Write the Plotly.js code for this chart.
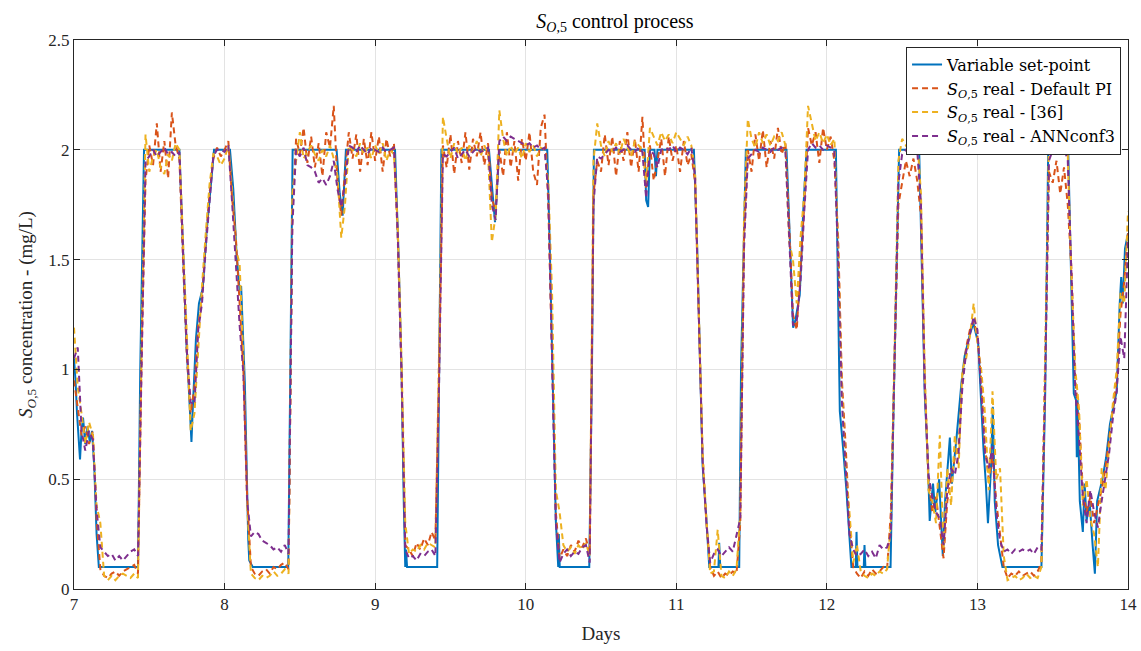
<!DOCTYPE html>
<html>
<head>
<meta charset="utf-8">
<script src="https://cdn.plot.ly/plotly-3.0.1.min.js"></script>
<style>html,body{margin:0;padding:0;background:#fff;}#chart{width:1141px;height:651px;}</style>
</head>
<body>
<div id="chart"></div>
<script>
// Variable set-point (breakpoints, days / mg/L)
const setpointDays = [7.000,7.010,7.020,7.030,7.040,7.050,7.060,7.075,7.090,7.105,7.120,7.135,7.150,7.165,
7.425,7.440,7.465,7.700,7.726,7.748,7.760,7.780,7.790,7.810,7.830,7.855,7.880,7.914,7.930,
8.036,8.058,8.080,8.100,8.110,8.135,8.157,8.164,8.187,8.423,8.452,8.744,8.765,8.784,8.806,
9.132,9.154,9.176,9.190,9.200,9.205,9.212,9.412,9.424,9.440,9.756,9.796,9.824,
10.143,10.160,10.183,10.200,10.216,10.220,10.226,10.422,10.440,10.453,10.790,10.800,10.813,10.825,10.855,10.865,10.875,
11.117,11.139,11.157,11.175,11.197,11.219,11.280,11.285,11.292,11.418,11.430,11.462,11.732,11.754,11.776,11.790,11.820,11.843,11.865,
12.060,12.075,12.086,12.108,12.130,12.163,12.192,12.197,12.203,12.245,12.250,12.256,12.423,12.440,12.480,12.613,12.629,12.650,12.672,12.683,
12.705,12.720,12.746,12.758,12.770,12.785,12.805,12.817,12.830,12.860,12.894,12.915,12.950,12.973,13.005,13.027,13.040,13.056,13.070,13.090,13.102,13.115,13.137,13.166,
13.425,13.450,13.470,13.603,13.625,13.640,13.655,13.660,13.665,13.680,13.700,13.712,13.725,13.745,13.765,13.780,13.795,13.830,13.855,13.880,13.900,13.925,13.945,13.955,13.965,13.980,14.000];
const setpointValues = [1.05,0.95,0.80,0.70,0.59,0.72,0.78,0.66,0.74,0.67,0.72,0.55,0.25,0.10,
0.10,1.00,2.00,2.00,1.50,1.10,0.95,0.67,0.84,1.14,1.30,1.37,1.62,1.87,2.00,
2.00,1.82,1.52,1.36,1.38,0.93,0.23,0.13,0.10,0.10,2.00,2.00,1.80,1.70,2.00,
2.00,1.55,0.98,0.40,0.10,0.18,0.10,0.10,1.06,2.00,2.00,1.67,2.00,
2.00,1.55,0.89,0.31,0.10,0.25,0.10,0.10,1.00,2.00,2.00,1.77,1.74,2.00,2.00,1.88,2.00,
2.00,1.55,1.06,0.56,0.35,0.10,0.10,0.21,0.10,0.10,1.00,2.00,2.00,1.59,1.19,1.22,1.34,1.72,2.00,
2.00,1.39,0.81,0.64,0.45,0.10,0.10,0.26,0.10,0.10,0.20,0.10,0.10,0.73,2.00,2.00,1.55,0.89,0.56,0.31,
0.48,0.35,0.50,0.30,0.15,0.40,0.60,0.69,0.48,0.68,0.94,1.06,1.16,1.21,1.12,0.81,0.64,0.48,0.30,0.55,0.83,0.40,0.20,0.10,
0.10,0.89,2.00,2.00,1.39,0.89,0.86,0.60,0.86,0.40,0.26,0.48,0.31,0.40,0.20,0.07,0.40,0.50,0.60,0.75,0.82,0.90,1.30,1.42,1.30,1.55,1.62];

// Measured series sampled every 0.025 day from day 7 to day 14
const sampleStart = 7, sampleStep = 0.025;
const defaultPI = [
0.95,0.82,0.70,0.74,0.66,0.72,0.32,0.09,0.06,0.05,
0.07,0.08,0.06,0.08,0.09,0.10,0.11,0.07,1.10,1.86,
2.02,1.93,2.12,1.90,2.04,1.87,2.17,2.02,1.96,1.48,
1.05,0.80,0.92,1.20,1.32,1.58,1.80,1.96,2.01,1.97,
2.00,2.04,1.78,1.60,1.32,1.00,0.42,0.10,0.07,0.06,
0.08,0.09,0.07,0.10,0.09,0.11,0.12,0.09,1.70,2.05,
1.98,2.10,1.94,2.06,1.92,2.03,1.88,2.08,2.01,2.20,
1.85,1.70,1.90,2.08,1.96,2.07,1.90,2.05,1.93,2.08,
1.95,2.06,1.90,2.05,1.97,2.03,1.60,1.00,0.20,0.18,
0.15,0.21,0.18,0.23,0.20,0.26,0.22,1.00,2.02,1.92,
2.07,1.89,2.04,1.94,2.08,1.91,2.05,1.97,2.08,1.93,
2.03,1.78,1.72,2.00,1.88,2.08,1.92,2.04,1.86,2.05,
1.95,2.08,1.90,1.84,2.10,2.16,1.75,1.10,0.35,0.14,
0.18,0.15,0.20,0.17,0.22,0.19,0.23,0.16,1.80,1.95,
1.90,2.07,1.93,2.06,1.88,2.04,1.95,2.08,1.92,2.05,
1.90,2.15,1.82,2.02,1.86,1.95,2.05,1.88,2.06,1.95,
2.02,1.90,2.04,1.93,1.98,1.85,1.20,0.60,0.30,0.10,
0.06,0.08,0.05,0.07,0.06,0.08,0.07,0.30,1.60,2.00,
1.90,2.07,1.95,2.09,1.92,2.04,1.96,2.10,1.98,2.03,
1.65,1.25,1.18,1.45,1.75,2.10,2.02,2.08,1.94,2.10,
2.00,2.06,1.95,1.60,0.95,0.65,0.30,0.10,0.07,0.05,
0.08,0.06,0.09,0.07,0.08,0.10,0.09,0.35,1.05,1.75,
1.85,1.95,1.88,1.96,1.86,1.70,0.95,0.50,0.35,0.42,
0.28,0.14,0.40,0.50,0.60,0.65,0.95,1.10,1.18,1.22,
1.15,0.95,0.65,0.50,0.60,0.40,0.25,0.10,0.05,0.07,
0.06,0.08,0.06,0.07,0.08,0.06,0.08,0.12,1.00,1.90,
1.85,1.95,1.80,1.92,1.75,1.45,0.95,0.78,0.45,0.35,
0.42,0.30,0.38,0.45,0.55,0.70,0.82,0.95,1.25,1.40,
1.62];
const ref36 = [
1.19,0.92,0.80,0.66,0.76,0.70,0.38,0.30,0.06,0.04,
0.06,0.04,0.06,0.07,0.06,0.05,0.07,0.05,1.15,2.07,
1.90,1.97,2.00,1.92,1.89,1.98,1.95,2.03,2.00,1.55,
1.12,0.72,0.80,1.10,1.38,1.62,1.84,1.98,1.97,1.93,
1.96,2.02,1.82,1.55,1.48,1.05,0.38,0.07,0.05,0.04,
0.06,0.05,0.06,0.08,0.06,0.07,0.09,0.07,1.80,1.95,
2.08,1.96,1.99,2.02,1.98,1.95,2.00,1.97,2.02,1.96,
1.88,1.60,1.75,2.02,2.00,1.97,2.03,1.98,2.01,1.96,
2.02,1.98,2.03,1.95,2.00,1.98,1.65,1.05,0.30,0.16,
0.18,0.17,0.20,0.18,0.21,0.20,0.19,1.10,2.15,2.05,
1.96,2.03,1.98,2.01,1.95,2.02,1.99,2.04,1.97,2.02,
1.98,1.58,1.70,2.18,2.05,1.97,2.02,1.98,2.01,1.96,
2.03,1.99,2.02,1.97,2.01,2.00,1.85,1.35,0.45,0.35,
0.20,0.17,0.19,0.16,0.20,0.18,0.21,0.15,1.95,2.12,
2.02,1.97,2.04,1.99,2.03,1.98,2.05,2.01,1.97,2.04,
2.02,2.00,1.85,2.10,2.06,2.02,2.08,2.04,2.07,2.03,
2.08,2.05,2.02,2.06,2.02,1.90,1.25,0.62,0.32,0.07,
0.08,0.27,0.06,0.05,0.08,0.06,0.09,0.35,1.70,2.14,
2.05,2.01,2.08,2.03,2.07,2.02,2.06,2.04,2.08,2.02,
1.58,1.50,1.30,1.60,1.80,2.20,2.12,2.04,2.08,2.03,
2.07,2.02,2.05,1.55,0.90,0.55,0.35,0.12,0.20,0.08,
0.06,0.05,0.07,0.06,0.08,0.07,0.09,0.30,1.10,1.95,
2.05,2.02,2.04,2.02,2.05,1.80,1.00,0.45,0.40,0.30,
0.70,0.18,0.55,0.38,0.70,0.55,1.00,1.05,1.15,1.30,
1.12,1.00,0.80,0.45,0.90,0.50,0.55,0.15,0.04,0.05,
0.06,0.04,0.05,0.07,0.05,0.06,0.05,0.10,1.10,2.05,
2.02,2.05,2.03,2.06,1.98,1.40,1.00,0.82,0.38,0.50,
0.32,0.25,0.10,0.55,0.45,0.65,0.85,1.00,1.35,1.30,
1.72];
const annConf3 = [
1.05,1.10,0.72,0.63,0.72,0.68,0.36,0.19,0.17,0.15,
0.16,0.13,0.15,0.13,0.15,0.17,0.18,0.15,1.05,1.95,
1.97,2.00,1.97,1.99,2.01,1.98,1.99,1.97,1.99,1.52,
1.08,0.85,0.84,1.18,1.30,1.55,1.78,1.97,2.00,2.00,
1.99,2.02,1.76,1.45,1.20,0.98,0.40,0.24,0.26,0.25,
0.22,0.21,0.20,0.18,0.19,0.17,0.20,0.16,1.65,2.00,
1.97,2.01,1.93,1.92,1.90,1.85,1.87,1.84,1.88,1.95,
1.82,1.74,1.85,2.02,2.01,1.99,2.02,2.00,1.98,2.01,
2.00,1.99,2.01,1.99,2.00,2.01,1.62,0.98,0.18,0.14,
0.15,0.13,0.16,0.15,0.17,0.18,0.15,0.95,1.98,1.97,
1.99,2.01,1.96,1.98,2.00,1.97,1.99,2.01,1.99,2.00,
2.01,1.75,1.68,2.04,2.06,2.04,2.06,2.05,2.04,2.03,
2.02,2.03,2.01,2.02,2.00,2.01,1.80,1.05,0.30,0.12,
0.16,0.18,0.15,0.17,0.16,0.19,0.20,0.12,1.75,1.97,
1.96,1.98,2.00,1.99,2.01,1.99,2.00,2.02,2.00,1.99,
2.01,1.99,1.78,2.00,1.98,1.92,2.00,2.01,2.00,2.02,
1.99,2.01,2.00,1.98,2.01,1.88,1.18,0.58,0.30,0.12,
0.16,0.18,0.15,0.17,0.19,0.17,0.24,0.32,1.55,1.96,
1.98,2.00,1.99,2.01,2.00,1.99,2.01,2.00,2.01,1.99,
1.60,1.20,1.22,1.40,1.72,2.00,2.03,2.01,2.02,2.00,
2.02,2.01,1.99,1.50,0.85,0.55,0.25,0.18,0.15,0.16,
0.18,0.15,0.17,0.14,0.20,0.18,0.19,0.25,1.00,1.85,
1.98,2.00,2.01,2.02,2.00,1.75,0.92,0.52,0.42,0.35,
0.32,0.20,0.45,0.55,0.52,0.62,0.92,1.08,1.16,1.24,
1.18,0.90,0.62,0.55,0.65,0.35,0.22,0.17,0.18,0.16,
0.18,0.17,0.18,0.17,0.18,0.16,0.19,0.18,0.95,1.95,
2.00,2.01,1.99,2.01,1.95,1.42,0.90,0.68,0.42,0.30,
0.45,0.35,0.28,0.40,0.50,0.62,0.78,0.90,1.15,1.05,
1.58];

const xTicks = [7,8,9,10,11,12,13,14];
const yTicks = [0,0.5,1,1.5,2,2.5];
const yTickLabels = ['0','0.5','1','1.5','2','2.5'];

const sampleDays = defaultPI.map((_, i) => +(sampleStart + i * sampleStep).toFixed(3));
const SO5 = '<i>S</i><sub><i>O</i>,5</sub>';
const dashStyle = '6px,4px';

const traces = [
  {x: setpointDays, y: setpointValues, mode: 'lines', name: 'Variable set-point',
   line: {color: '#0072BD', width: 2}},
  {x: sampleDays, y: defaultPI, mode: 'lines', name: SO5 + ' real - Default PI',
   line: {color: '#D95319', width: 2, dash: dashStyle}},
  {x: sampleDays, y: ref36, mode: 'lines', name: SO5 + ' real - [36]',
   line: {color: '#EDB120', width: 2, dash: dashStyle}},
  {x: sampleDays, y: annConf3, mode: 'lines', name: SO5 + ' real - ANNconf3',
   line: {color: '#7E2F8E', width: 2, dash: dashStyle}}
];

const fontFam = '"Liberation Serif", "DejaVu Serif", serif';
const legendFam = '"DejaVu Serif", "Liberation Serif", serif';
const layout = {
  width: 1141, height: 651,
  margin: {l: 74, r: 13, t: 40, b: 62},
  paper_bgcolor: '#ffffff', plot_bgcolor: '#ffffff',
  font: {family: fontFam, size: 17, color: '#262626'},
  title: {text: SO5 + ' control process', x: 0.539, xanchor: 'center', y: 0.968, yanchor: 'middle',
          font: {family: fontFam, size: 20, color: '#000000'}},
  showlegend: true,
  legend: {x: 0.9934, xanchor: 'right', y: 0.988, yanchor: 'top',
           bgcolor: '#ffffff', bordercolor: '#262626', borderwidth: 1,
           font: {family: legendFam, size: 16, color: '#000000'},
           tracegroupgap: 0, itemwidth: 30},
  xaxis: {range: [7, 14], tickvals: xTicks, ticktext: xTicks.map(String),
          ticks: 'inside', ticklen: 6, tickcolor: '#262626', tickwidth: 1,
          showline: true, linecolor: '#262626', linewidth: 1, mirror: 'ticks',
          showgrid: true, gridcolor: '#e3e3e3', gridwidth: 1, zeroline: false,
          tickfont: {family: fontFam, size: 17, color: '#262626'},
          title: {text: 'Days', font: {family: fontFam, size: 19, color: '#262626'}, standoff: 13}},
  yaxis: {range: [0, 2.5], tickvals: yTicks, ticktext: yTickLabels,
          ticks: 'inside', ticklen: 6, tickcolor: '#262626', tickwidth: 1,
          showline: true, linecolor: '#262626', linewidth: 1, mirror: 'ticks',
          showgrid: true, gridcolor: '#e3e3e3', gridwidth: 1, zeroline: false,
          tickfont: {family: fontFam, size: 17, color: '#262626'},
          title: {text: SO5 + ' concentration - (mg/L)', font: {family: fontFam, size: 19, color: '#262626'}, standoff: 10}}
};

Plotly.newPlot('chart', traces, layout, {displayModeBar: false, staticPlot: true});
</script>
</body>
</html>
